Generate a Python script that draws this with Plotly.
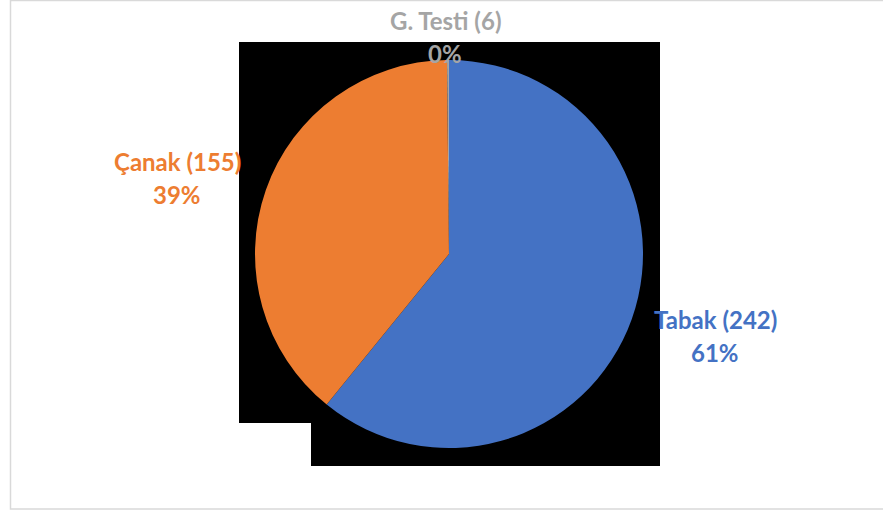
import plotly.graph_objects as go

# Data
categories = ["Tabak", "Çanak", "G. Testi"]
counts = [242, 155, 6]            # counts shown in the labels
slice_values = [242, 155, 0.65]   # slice sizes as drawn (G. Testi slice is a hairline)
pct_labels = ["61%", "39%", "0%"]
colors = ["#4472C4", "#ED7D31", "#A5A5A5"]

W, H = 883, 513

def px(x):
    return x / W

def py(y):
    return (H - y) / H

cx, cy, r = 449, 254, 194

fig = go.Figure()
fig.add_trace(go.Pie(
    labels=categories,
    values=slice_values,
    sort=False,
    direction="clockwise",
    rotation=0,
    marker=dict(colors=colors, line=dict(width=0)),
    textinfo="none",
    hoverinfo="skip",
    showlegend=False,
    domain=dict(x=[px(cx - r), px(cx + r)], y=[py(cy + r), py(cy - r)]),
))

# label positions (pixel centres of name line / pct line)
label_pos = [(715, 319, 352), (177, 161, 194), (445, 20, 53)]
font_family = "Lato, 'Open Sans', sans-serif"
fsize = 24
for name, cnt, pct, col, (lx, ly1, ly2) in zip(categories, counts, pct_labels, colors, label_pos):
    fig.add_annotation(x=px(lx), y=py(ly1), xref="paper", yref="paper",
                       text=f"<b>{name} ({cnt})</b>", showarrow=False,
                       font=dict(family=font_family, size=fsize, color=col),
                       xanchor="center", yanchor="middle")
    fig.add_annotation(x=px(lx), y=py(ly2), xref="paper", yref="paper",
                       text=f"<b>{pct}</b>", showarrow=False,
                       font=dict(family=font_family, size=fsize, color=col),
                       xanchor="center", yanchor="middle")

shapes = [
    dict(type="rect", xref="paper", yref="paper", x0=px(239), x1=px(660), y0=py(423), y1=py(42),
         fillcolor="black", line=dict(width=0), layer="below"),
    dict(type="rect", xref="paper", yref="paper", x0=px(311), x1=px(660), y0=py(466), y1=py(423),
         fillcolor="black", line=dict(width=0), layer="below"),
    dict(type="rect", xref="paper", yref="paper", x0=px(10.5), x1=px(890), y0=py(509), y1=py(0.5),
         fillcolor="rgba(0,0,0,0)", line=dict(color="#D9D9D9", width=1.5), layer="below"),
]

fig.update_layout(
    width=W, height=H,
    margin=dict(l=0, r=0, t=0, b=0),
    paper_bgcolor="white",
    plot_bgcolor="white",
    shapes=shapes,
)

fig.write_html("out.html", config={"displayModeBar": False},
               post_script="document.body.style.margin='0';document.body.style.overflow='hidden';")
